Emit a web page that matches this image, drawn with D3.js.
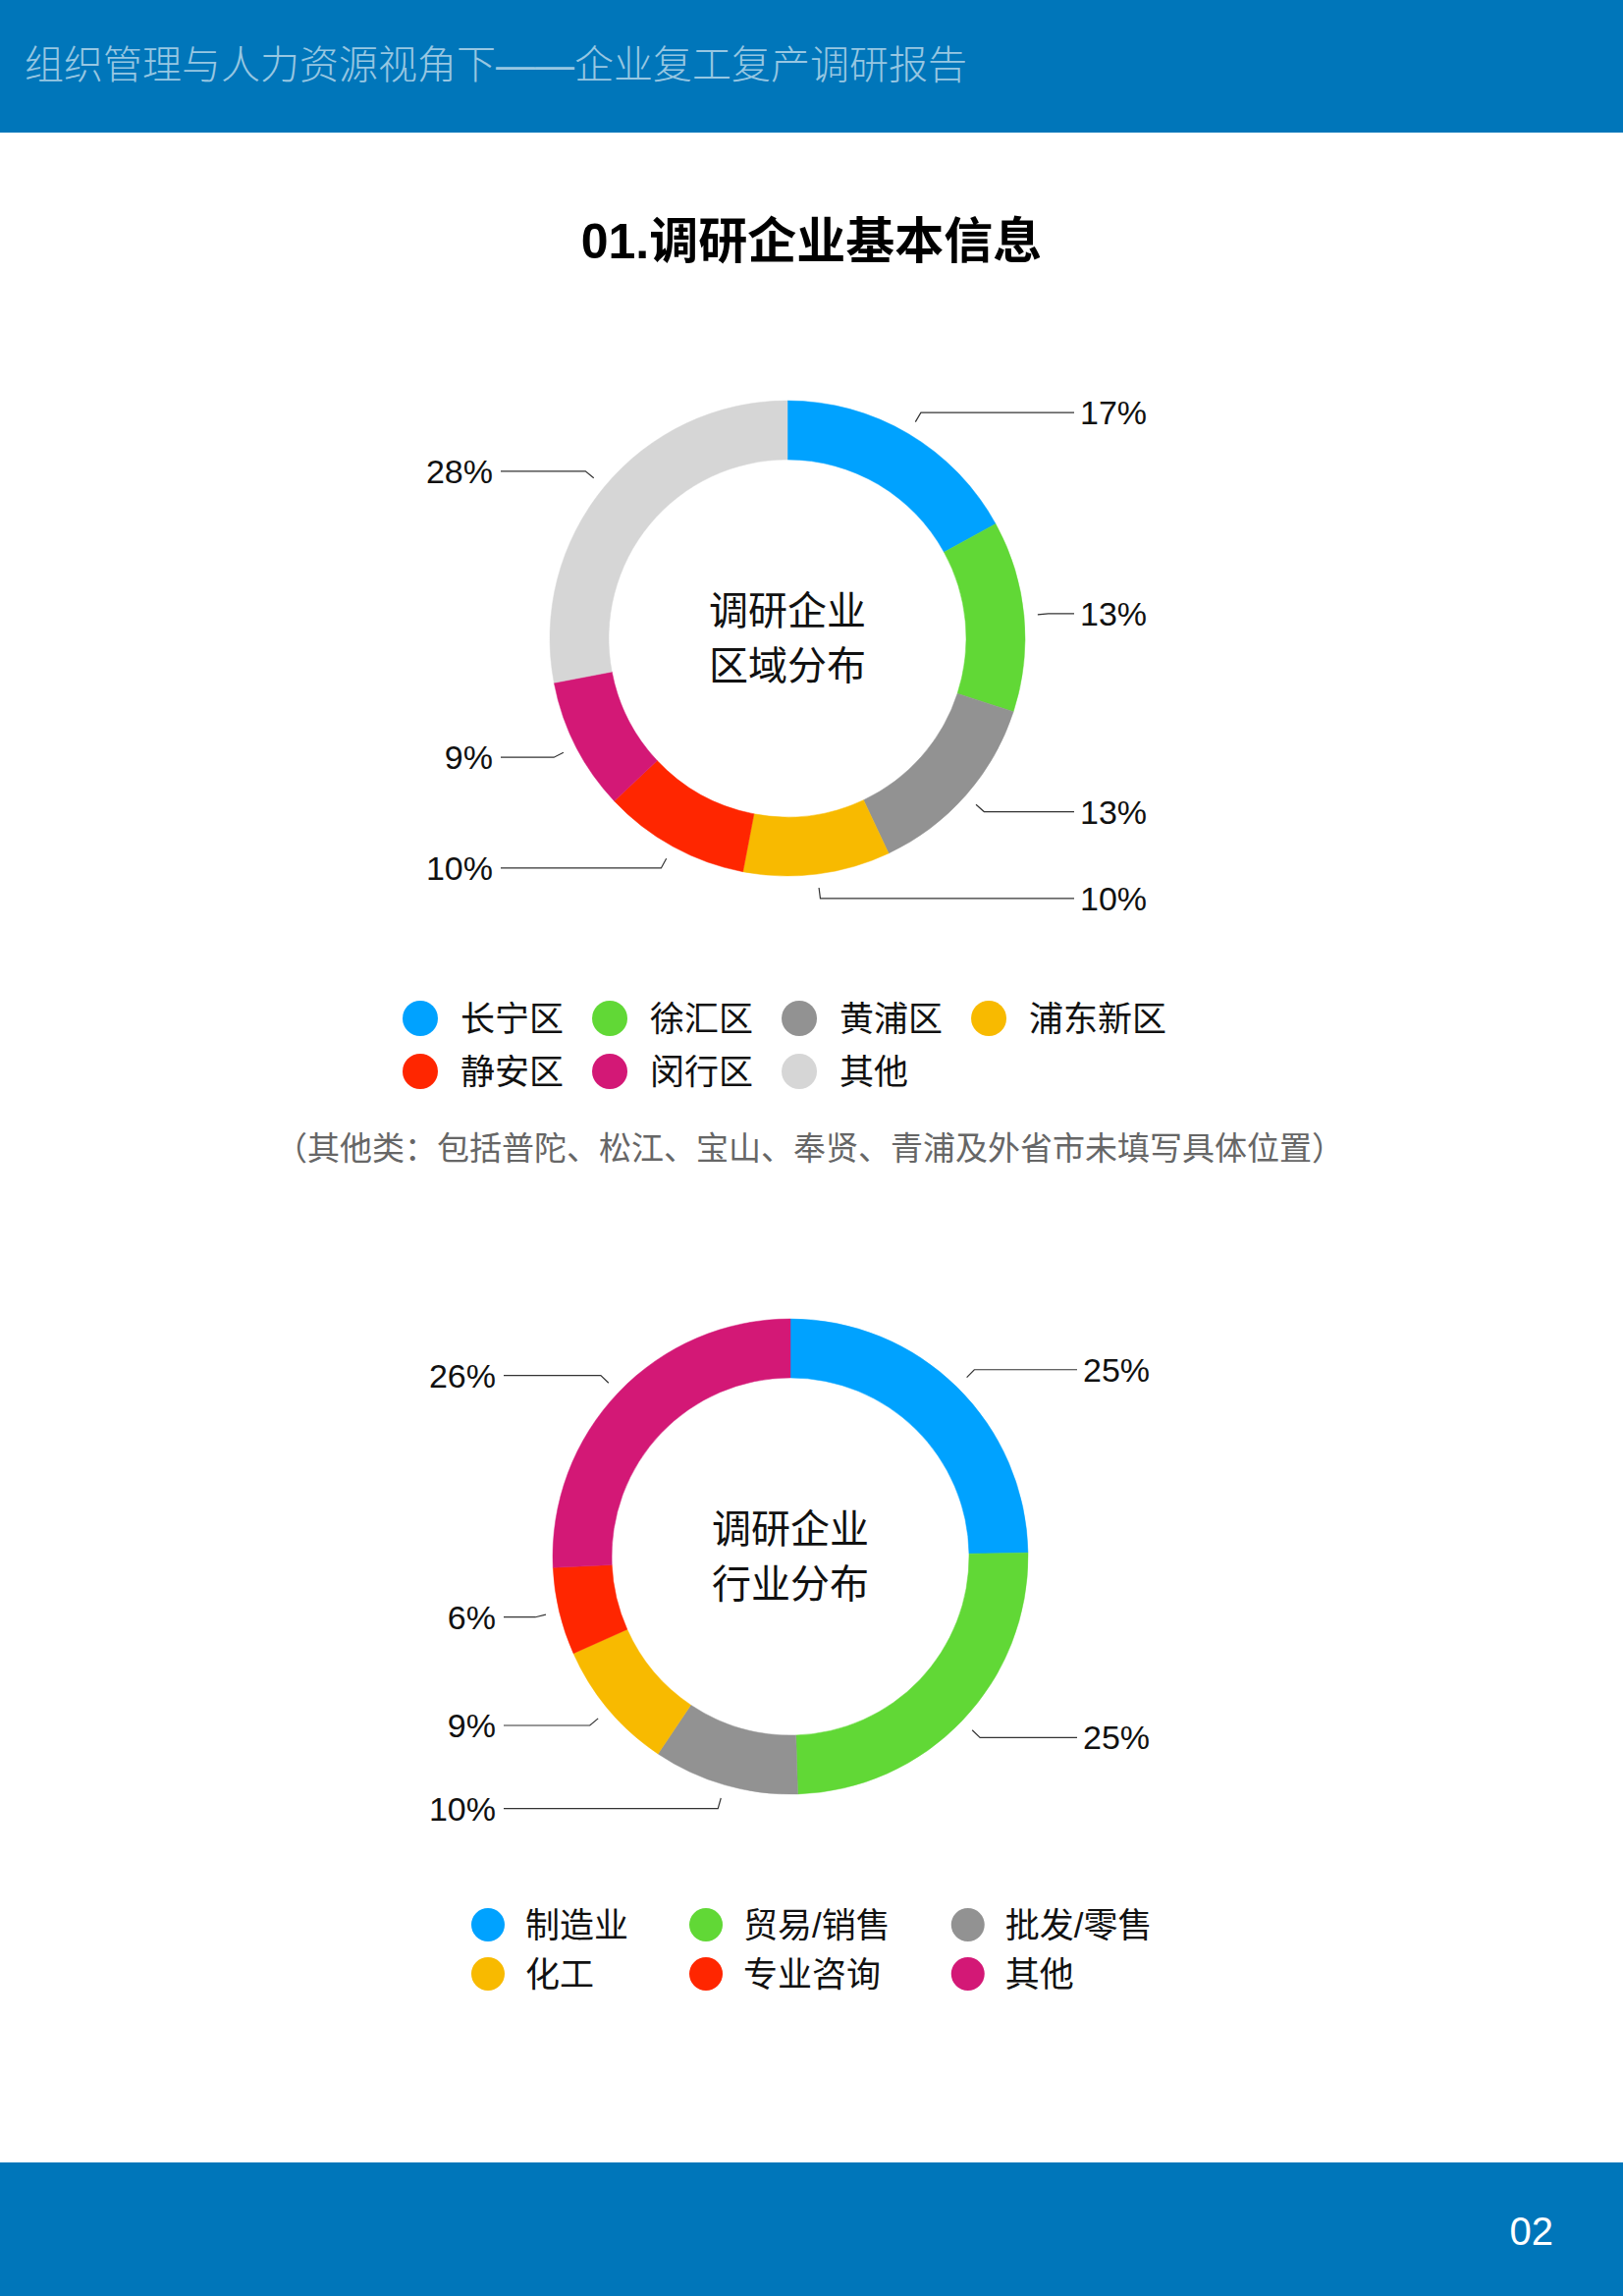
<!DOCTYPE html>
<html lang="zh">
<head>
<meta charset="utf-8">
<title>企业复工复产调研报告</title>
<script src="https://cdn.jsdelivr.net/npm/d3@7"></script>
<style>
  body { margin: 0; background: #fff; }
  svg { display: block; }
  text { font-family: "Liberation Sans", "Noto Sans CJK SC", sans-serif; }
</style>
</head>
<body>
<div id="page"></div>
<script>
const pageTitle = "组织管理与人力资源视角下——企业复工复产调研报告";
const sectionTitle = "01.调研企业基本信息";
const pageNumber = "02";

// Chart 1: region split
const regionCenterText = ["调研企业", "区域分布"];
const regionNames = ["长宁区", "徐汇区", "黄浦区", "浦东新区", "静安区", "闵行区", "其他"];
const regionValues = [17, 13, 13, 10, 10, 9, 28];
const regionColors = ["#00a2ff", "#61d836", "#929292", "#f8ba00", "#ff2600", "#d31876", "#d6d6d6"];
const regionNote = "（其他类：包括普陀、松江、宝山、奉贤、青浦及外省市未填写具体位置）";

// Chart 2: industry split
const industryCenterText = ["调研企业", "行业分布"];
const industryNames = ["制造业", "贸易/销售", "批发/零售", "化工", "专业咨询", "其他"];
const industryValues = [25, 25, 10, 9, 6, 26];
const industryColors = ["#00a2ff", "#61d836", "#929292", "#f8ba00", "#ff2600", "#d31876"];

const width = 1653;
const height = 2338;
const blue = "#0076ba";

const svg = d3.select("#page")
    .append("svg")
        .attr("width", width)
        .attr("height", height);

// Header + footer bands.
svg.append("rect").attr("x", 0).attr("y", 0).attr("width", width).attr("height", 135).attr("fill", blue);
svg.append("text")
    .attr("x", 25).attr("y", 66)
    .attr("dominant-baseline", "central")
    .attr("font-family", "'Noto Sans CJK SC', sans-serif")
    .attr("font-weight", 300)
    .attr("font-size", 40)
    .attr("fill", "rgba(255,255,255,0.6)")
    .text(pageTitle);

svg.append("rect").attr("x", 0).attr("y", 2202).attr("width", width).attr("height", height - 2202).attr("fill", blue);
svg.append("text")
    .attr("x", 1582).attr("y", 2272)
    .attr("text-anchor", "end")
    .attr("dominant-baseline", "central")
    .attr("font-size", 40)
    .attr("fill", "#fff")
    .text(pageNumber);

svg.append("text")
    .attr("x", width / 2).attr("y", 246)
    .attr("text-anchor", "middle")
    .attr("dominant-baseline", "central")
    .attr("font-size", 50)
    .attr("font-weight", 700)
    .attr("fill", "#000")
    .text(sectionTitle);

function drawDonut(cx, cy, names, values, colors, centerText) {
    const g = svg.append("g")
        .attr("transform", "translate(" + cx + "," + cy + ")");

    const rows = names.map((name, i) => ({name: name, value: values[i], color: colors[i]}));
    const pie = d3.pie().sort(null).value(d => d.value);
    const arc = d3.arc().innerRadius(182).outerRadius(242);
    const lineStart = d3.arc().innerRadius(256).outerRadius(256);
    const lineElbow = d3.arc().innerRadius(267).outerRadius(267);
    const line = d3.line();

    const arcs = pie(rows);

    g.selectAll("path.slice")
        .data(arcs)
        .join("path")
            .attr("class", "slice")
            .attr("d", arc)
            .attr("fill", d => d.data.color)
            .attr("stroke", d => d.data.color)
            .attr("stroke-width", 0.5);

    // Leader lines: short radial tick, then out to the side.
    arcs.forEach(d => {
        const mid = (d.startAngle + d.endAngle) / 2;
        const right = mid < Math.PI;
        const p0 = lineStart.centroid(d);
        const p1 = lineElbow.centroid(d);
        const p2 = [right ? 292 : -292, p1[1]];

        g.append("path")
            .attr("d", line([p0, p1, p2]))
            .attr("fill", "none")
            .attr("stroke", "#333")
            .attr("stroke-width", 1.2);

        g.append("text")
            .attr("x", right ? 298 : -300)
            .attr("y", p1[1])
            .attr("text-anchor", right ? "start" : "end")
            .attr("dominant-baseline", "central")
            .attr("font-size", 34)
            .attr("fill", "#111")
            .text(d.data.value + "%");
    });

    centerText.forEach((t, i) => {
        g.append("text")
            .attr("x", 0)
            .attr("y", (i - 0.5) * 56)
            .attr("text-anchor", "middle")
            .attr("dominant-baseline", "central")
            .attr("font-size", 40)
            .attr("fill", "#111")
            .text(t);
    });
}

function drawLegend(names, colors, opt) {
    const g = svg.append("g");
    const items = names.map((name, i) => ({name: name, color: colors[i], col: i % opt.cols, row: Math.floor(i / opt.cols)}));

    const texts = g.selectAll("text")
        .data(items)
        .join("text")
            .attr("dominant-baseline", "central")
            .attr("font-size", 35)
            .attr("fill", "#111")
            .text(d => d.name);

    // Column widths come from the widest label in each column.
    const colWidth = d3.range(opt.cols).map(() => 0);
    texts.each(function (d) {
        colWidth[d.col] = Math.max(colWidth[d.col], this.getComputedTextLength());
    });
    const colX = [opt.x];
    for (let c = 1; c < opt.cols; c++) {
        colX[c] = colX[c - 1] + opt.textGap + colWidth[c - 1] + opt.colGap + opt.r;
    }

    texts
        .attr("x", d => colX[d.col] + opt.textGap)
        .attr("y", d => opt.y + d.row * opt.rowGap);

    g.selectAll("circle")
        .data(items)
        .join("circle")
            .attr("cx", d => colX[d.col])
            .attr("cy", d => opt.y + d.row * opt.rowGap)
            .attr("r", opt.r)
            .attr("fill", d => d.color);
}

drawDonut(802, 650, regionNames, regionValues, regionColors, regionCenterText);
drawLegend(regionNames, regionColors, {x: 428, y: 1037, cols: 4, rowGap: 54, r: 18, textGap: 41, colGap: 29});

svg.append("text")
    .attr("x", width / 2 - 2).attr("y", 1169)
    .attr("text-anchor", "middle")
    .attr("dominant-baseline", "central")
    .attr("font-size", 33)
    .attr("fill", "#666")
    .text(regionNote);

drawDonut(805, 1585, industryNames, industryValues, industryColors, industryCenterText);
drawLegend(industryNames, industryColors, {x: 497, y: 1960, cols: 3, rowGap: 50, r: 17, textGap: 38, colGap: 62});
</script>
</body>
</html>
